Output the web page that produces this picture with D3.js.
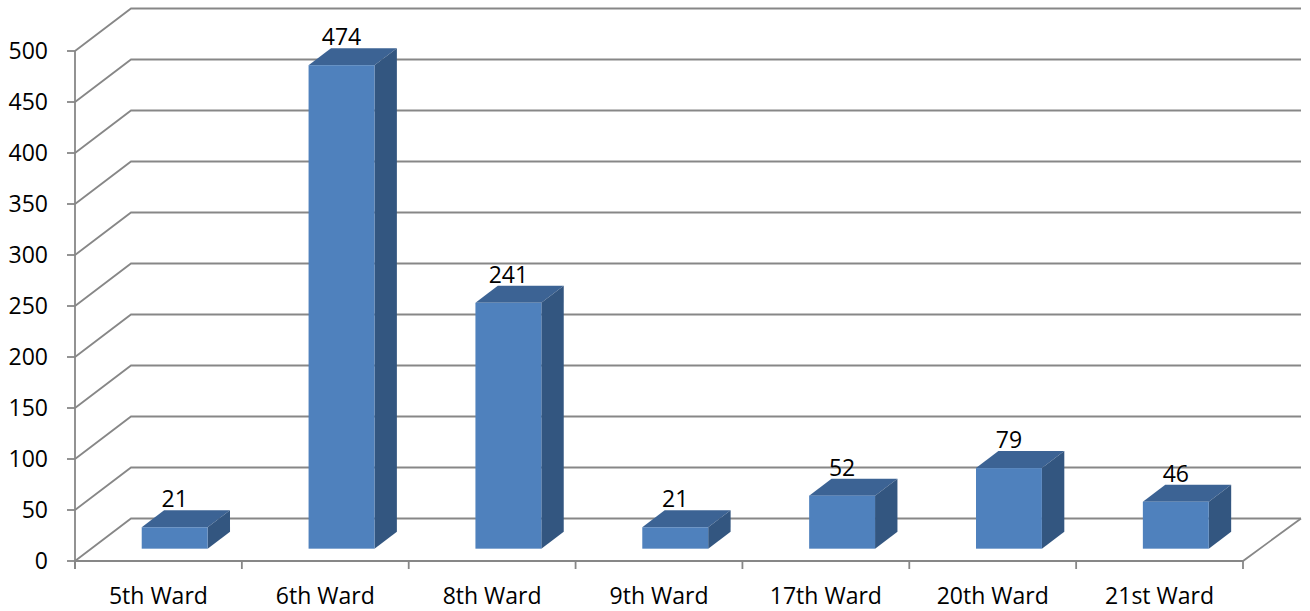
<!DOCTYPE html>
<html>
<head>
<meta charset="utf-8">
<script src="https://cdn.jsdelivr.net/npm/d3@7"></script>
<style>
  body { margin: 0; background: #fff; }
  text { font-family: "Open Sans", "Liberation Sans", sans-serif; fill: #000; }
</style>
</head>
<body>
<div id="chart"></div>
<script>
const wards = ['5th Ward', '6th Ward', '8th Ward', '9th Ward', '17th Ward', '20th Ward', '21st Ward']
const counts = [21, 474, 241, 21, 52, 79, 46]
const y_ticks = [0, 50, 100, 150, 200, 250, 300, 350, 400, 450, 500]

const svg_width = 1310,
      svg_height = 611,
      grid_color = '#878787',
      depth_dx = 56,
      depth_dy = -42.5,
      bar_front = 0.29,   // bar depth position as fraction of floor depth
      bar_back = 0.69,
      bar_frac = 0.395,
      font_size = '23px'

const svg = d3.select('#chart').append('svg')
  .attr('width', svg_width)
  .attr('height', svg_height)

const x = d3.scaleBand().domain(wards).range([75, 1243]).padding(0)
const y = d3.scaleLinear().domain([0, 500]).range([561, 51])

const grid = svg.append('g').attr('class', 'grid')
  .style('stroke', grid_color)
  .style('stroke-width', 1.8)
  .style('fill', 'none')

// back wall gridlines + side wall diagonals
y_ticks.forEach(t => {
  grid.append('path')
    .attr('d', `M${x.range()[0]},${y(t)} L${x.range()[0] + depth_dx},${y(t) + depth_dy} L${x.range()[1] + depth_dx + 2},${y(t) + depth_dy}`)
})

// floor front edge and right edge
grid.append('path')
  .attr('d', `M${x.range()[0]},${y(0)} L${x.range()[1]},${y(0)} L${x.range()[1] + depth_dx + 2},${y(0) + depth_dy}`)

// vertical axis with ticks
grid.append('line')
  .attr('x1', 75).attr('x2', 75)
  .attr('y1', y(500)).attr('y2', y(0) + 8)
y_ticks.forEach(t => {
  grid.append('line')
    .attr('x1', 67).attr('x2', 75)
    .attr('y1', y(t)).attr('y2', y(t))
})

// category ticks
const bounds = wards.map(w => x(w)).concat([x.range()[1]])
bounds.forEach(b => {
  grid.append('line')
    .attr('x1', b).attr('x2', b)
    .attr('y1', y(0)).attr('y2', y(0) + 8)
})

svg.append('g').selectAll('text')
  .data(y_ticks)
  .join('text')
  .attr('x', 48)
  .attr('y', d => y(d))
  .attr('dy', '0.36em')
  .attr('text-anchor', 'end')
  .style('font-size', font_size)
  .text(d => d)

svg.append('g').selectAll('text')
  .data(wards)
  .join('text')
  .attr('x', d => x(d) + x.bandwidth() / 2)
  .attr('y', 604)
  .attr('text-anchor', 'middle')
  .style('font-size', font_size)
  .text(d => d)

// bars
const bars = wards.map((w, i) => {
  const bw = x.bandwidth() * bar_frac
  const x0 = x(w) + x.bandwidth() / 2 - bw / 2 + depth_dx * bar_front
  const oy = depth_dy * bar_front
  const ddx = depth_dx * (bar_back - bar_front)
  const ddy = depth_dy * (bar_back - bar_front)
  return {w: w, v: counts[i], x0: x0, x1: x0 + bw, yb: y(0) + oy, yt: y(counts[i]) + oy, ddx: ddx, ddy: ddy}
})

const bar_g = svg.append('g').selectAll('g')
  .data(bars)
  .join('g')

bar_g.append('path')
  .attr('d', b => `M${b.x0},${b.yt} L${b.x0 + b.ddx},${b.yt + b.ddy} L${b.x1 + b.ddx},${b.yt + b.ddy} L${b.x1},${b.yt} Z`)
  .style('fill', '#3c6394')

bar_g.append('path')
  .attr('d', b => `M${b.x1},${b.yt} L${b.x1 + b.ddx},${b.yt + b.ddy} L${b.x1 + b.ddx},${b.yb + b.ddy} L${b.x1},${b.yb} Z`)
  .style('fill', '#335680')

bar_g.append('rect')
  .attr('x', b => b.x0)
  .attr('y', b => b.yt)
  .attr('width', b => b.x1 - b.x0)
  .attr('height', b => b.yb - b.yt)
  .style('fill', '#4f81bd')

bar_g.append('text')
  .attr('x', b => (b.x0 + b.x1) / 2)
  .attr('y', b => b.yt + b.ddy - 3)
  .attr('text-anchor', 'middle')
  .style('font-size', font_size)
  .text(b => b.v)
</script>
</body>
</html>
